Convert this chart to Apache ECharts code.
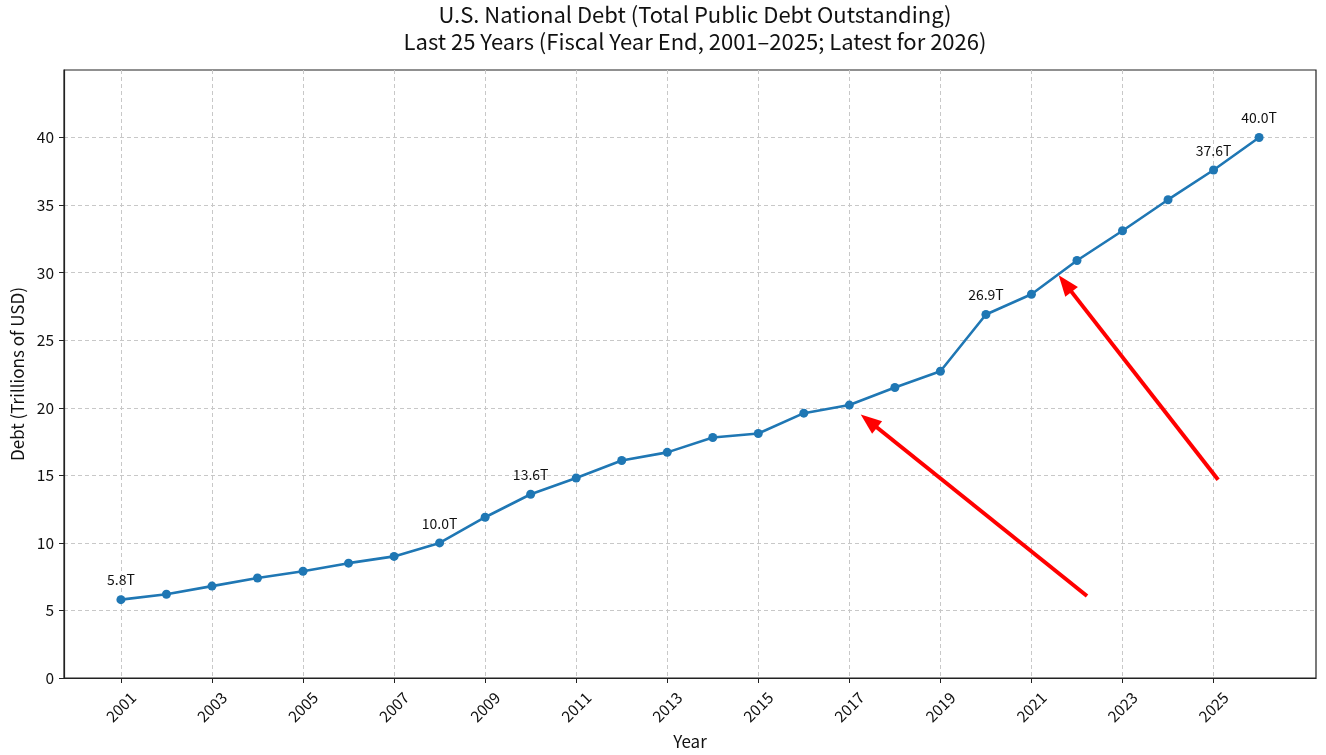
<!DOCTYPE html>
<html>
<head>
<meta charset="utf-8">
<script src="https://cdn.jsdelivr.net/npm/echarts@6/dist/echarts.min.js"></script>
<style>
  html, body { margin: 0; padding: 0; background: #fff; }
  #chart { width: 1326px; height: 755px; }
</style>
</head>
<body>
<div id="chart"></div>
<script>
let years = [2001, 2002, 2003, 2004, 2005, 2006, 2007, 2008, 2009, 2010, 2011, 2012, 2013,
  2014, 2015, 2016, 2017, 2018, 2019, 2020, 2021, 2022, 2023, 2024, 2025, 2026];
let debt = [5.8, 6.2, 6.8, 7.4, 7.9, 8.5, 9.0, 10.0, 11.9, 13.6, 14.8, 16.1, 16.7,
  17.8, 18.1, 19.6, 20.2, 21.5, 22.7, 26.9, 28.4, 30.9, 33.1, 35.4, 37.6, 40.0];
let labelYears = [2001, 2008, 2010, 2020, 2025, 2026];
let xTicks = [2001, 2003, 2005, 2007, 2009, 2011, 2013, 2015, 2017, 2019, 2021, 2023, 2025];
let yTicks = [0, 5, 10, 15, 20, 25, 30, 35, 40];
// arrows: [tail, head] in data units (head = centre of the triangle)
let arrows = [
  [[2022.22, 6.07], [2017.43, 19.02]],
  [[2025.10, 14.67], [2021.74, 29.19]]
];

let font = "Noto Sans CJK JP";

let seriesData = years.map((y, i) => {
  let item = { value: [y, debt[i]] };
  if (labelYears.indexOf(y) >= 0) {
    item.label = { show: true };
  }
  return item;
});

var myChart = echarts.init(document.getElementById("chart"), null, { renderer: "canvas" });
myChart.setOption({
  animation: false,
  backgroundColor: "#fff",
  textStyle: { fontFamily: font },
  title: {
    text: "U.S. National Debt (Total Public Debt Outstanding)\nLast 25 Years (Fiscal Year End, 2001\u20132025; Latest for 2026)",
    left: 690,
    textAlign: "center",
    top: -4,
    textStyle: {
      fontFamily: font,
      fontSize: 22,
      fontWeight: "normal",
      color: "#111",
      lineHeight: 27
    }
  },
  grid: {
    left: 64,
    right: 10,
    top: 70,
    bottom: 77,
    outerBoundsMode: "none",
    containLabel: false,
    show: true,
    borderColor: "#222",
    borderWidth: 1.2
  },
  xAxis: {
    type: "value",
    min: 1999.75,
    max: 2027.25,
    name: "Year",
    nameLocation: "middle",
    nameGap: 55,
    nameTextStyle: { fontFamily: font, fontSize: 17, color: "#111" },
    axisLine: { show: true, onZero: false, lineStyle: { color: "#222", width: 1.2 } },
    axisTick: { show: true, length: 5, customValues: xTicks, lineStyle: { color: "#222" } },
    axisLabel: {
      customValues: xTicks,
      rotate: 45,
      align: "center",
      verticalAlign: "middle",
      margin: 29,
      fontFamily: font,
      fontSize: 15.5,
      color: "#111",
      formatter: v => String(v)
    },
    splitLine: { show: true, lineStyle: { color: "#c8c8c8", type: [4, 3], width: 1 } }
  },
  yAxis: {
    type: "value",
    min: 0,
    max: 45,
    name: "Debt (Trillions of USD)",
    nameLocation: "middle",
    nameGap: 36,
    nameTextStyle: { fontFamily: font, fontSize: 17, color: "#111" },
    axisLine: { show: true, lineStyle: { color: "#222", width: 1.2 } },
    axisTick: { show: true, length: 5, customValues: yTicks, lineStyle: { color: "#222" } },
    axisLabel: {
      customValues: yTicks,
      margin: 10,
      fontFamily: font,
      fontSize: 15.5,
      color: "#111"
    },
    splitLine: { show: true, lineStyle: { color: "#c8c8c8", type: [4, 3], width: 1 } }
  },
  series: [
    {
      type: "line",
      data: seriesData,
      symbol: "circle",
      symbolSize: 9,
      itemStyle: { color: "#1f77b4" },
      lineStyle: { color: "#1f77b4", width: 2.6 },
      label: {
        show: false,
        position: "top",
        distance: 8,
        fontFamily: font,
        fontSize: 14,
        color: "#111",
        formatter: p => p.value[1].toFixed(1) + "T"
      },
      markLine: {
        silent: true,
        symbol: ["none", "triangle"],
        symbolSize: [16, 21],
        label: { show: false },
        lineStyle: { color: "#f00", width: 4, type: "solid" },
        data: arrows.map(a => [{ coord: a[0] }, { coord: a[1] }])
      }
    }
  ]
});
</script>
</body>
</html>
